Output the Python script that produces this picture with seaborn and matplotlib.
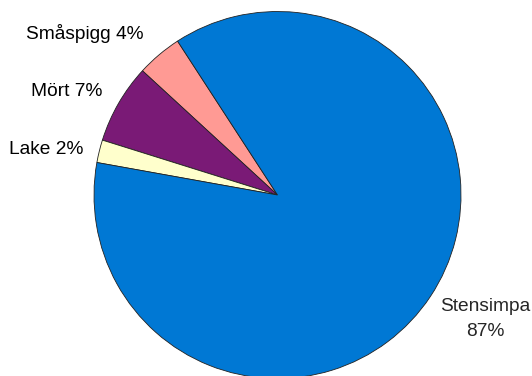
import matplotlib
matplotlib.use("Agg")
import matplotlib.pyplot as plt
import seaborn as sns

# Catch composition by species (share of individuals, %)
species = ["Småspigg", "Mört", "Lake", "Stensimpa"]
shares = [4, 7, 2, 87]
colors = ["#FF9A94", "#7A1A76", "#FFFFCC", "#0078D4"]

sns.set_style("white")
plt.rcParams["font.family"] = ["Liberation Sans", "DejaVu Sans"]

W, H = 532, 376
fig = plt.figure(figsize=(W / 100, H / 100), dpi=100)

# Pie centre and radius in figure pixels (from the top-left corner)
cx, cy, r = 277.5, 195.0, 183.5
ax = fig.add_axes([(cx - r) / W, (H - cy - r) / H, 2 * r / W, 2 * r / H])

ax.pie(shares, colors=colors, startangle=123, counterclock=True, radius=1,
       wedgeprops=dict(edgecolor="#222222", linewidth=0.6))
ax.set_xlim(-1, 1)
ax.set_ylim(-1, 1)
ax.set_aspect("equal")
ax.axis("off")


def px(x, y):
    return (x - cx) / r, (cy - y) / r


labels = [f"{s} {v}%" for s, v in zip(species, shares)]
fs = 13.8
# label anchors: right edge and baseline, in pixels
anchors = {"Småspigg": (144, 39), "Mört": (102, 96), "Lake": (83, 154)}
for s, lab in zip(species, labels):
    if s in anchors:
        x, y = px(*anchors[s])
        ax.text(x, y, lab, ha="right", va="baseline", fontsize=fs,
                color="black", clip_on=False)

x, y = px(485.5, 311)
ax.text(x, y, species[3], ha="center", va="baseline", fontsize=fs, clip_on=False)
x, y = px(485.5, 336)
ax.text(x, y, f"{shares[3]}%", ha="center", va="baseline", fontsize=fs, clip_on=False)

fig.savefig("out.png", dpi=100)
